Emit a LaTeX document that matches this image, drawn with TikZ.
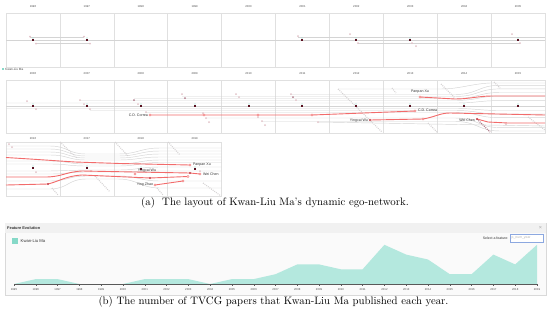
\documentclass[tikz,border=0pt]{standalone}
\usepackage{fontspec}
\newfontfamily\uisans{Liberation Sans}
\definecolor{egoc}{HTML}{5A1020}
\definecolor{redl}{HTML}{F26B6B}
\definecolor{redd}{HTML}{C0404A}
\definecolor{tealA}{HTML}{B4E8DE}
\definecolor{tealB}{HTML}{86D9C8}
\definecolor{pnl}{HTML}{E0E0E0}
\definecolor{gl}{HTML}{D4D4D4}
\definecolor{pk}{HTML}{E2C2C8}
\definecolor{pkd}{HTML}{B07888}
\definecolor{boxblue}{HTML}{8CA8E0}
\begin{document}
\begin{tikzpicture}[x=1pt,y=-1pt,
  yr/.style={font=\uisans\fontsize{2.8}{3}\selectfont, text=black!70, inner sep=0},
  lab/.style={font=\uisans\fontsize{3.6}{4}\selectfont, text=black!80, inner sep=0.3pt},
  uitext/.style={font=\uisans\fontsize{3.8}{4.5}\selectfont, text=black!80, inner sep=0},
  panelbox/.style={draw=pnl, line width=0.5pt},
  gline/.style={draw=gl, line width=0.45pt},
  rline/.style={draw=redl, line width=0.9pt},
  diag/.style={draw=gl!90!pk, line width=1.1pt, dash pattern=on 0.9pt off 1.1pt},
  diagr/.style={draw=pkd, line width=1.1pt, dash pattern=on 0.9pt off 1.1pt},
  captext/.style={font=\fontsize{10.8}{12}\selectfont, inner sep=0}
]
\useasboundingbox (0,0) rectangle (550,309);
\fill[white] (0,0) rectangle (550,309);

% ---------- panels ----------
\def\pw{53.9}
\foreach \k in {0,...,9}{
  \pgfmathsetmacro{\xa}{6+\pw*\k}
  \pgfmathsetmacro{\xb}{6+\pw*(\k+1)}
  \pgfmathsetmacro{\xc}{6+\pw*(\k+0.5)}
  \pgfmathtruncatemacro{\ya}{1996+\k}
  \pgfmathtruncatemacro{\yb}{2006+\k}
  \draw[panelbox] (\xa,13) rectangle (\xb,67);
  \draw[panelbox] (\xa,80) rectangle (\xb,133);
  \node[yr] (ya\k) at (\xc,7) {\ya};
  \node[yr] (yb\k) at (\xc,74) {\yb};
}
\foreach \k in {0,...,3}{
  \pgfmathsetmacro{\xa}{6+\pw*\k}
  \pgfmathsetmacro{\xb}{6+\pw*(\k+1)}
  \pgfmathsetmacro{\xc}{6+\pw*(\k+0.5)}
  \pgfmathtruncatemacro{\yc}{2016+\k}
  \draw[panelbox] (\xa,142) rectangle (\xb,196);
  \node[yr] (yc\k) at (\xc,138.5) {\yc};
}

% legend row 1
\fill[tealB] (2,68) rectangle (4.4,70.4);
\node[yr, anchor=west, font=\uisans\fontsize{3.1}{3}\selectfont] (legA) at (5,69.2) {Kwan-Liu Ma};

% ---------- row 1 ----------
\draw[gline] (6,40) -- (545,40);
\draw[gline] (30,37) -- (84,37);
\draw[gline] (36,43) -- (90,43);
\draw[gline] (298,37) -- (545,37);
\draw[gline] (358,43) -- (520,43);
\foreach \p in {(30,36.5),(84,36.5),(36,43.5),(90,43.5),(298,36),(350,34),(358,43),(412,43),(416,46),(512,34),(520,43)}
  \fill[pk] \p circle (1pt);

% ---------- row 2 gray lines ----------
\foreach \xs/\yo in {6/103, 80/100.5, 134/98.5, 182/96.5, 290/94.5, 6/108.5, 90/110.5, 146/112.5, 206/118, 262/121.5}{
  \pgfmathsetmacro{\yn}{106+(\yo-106)*1.8}
  \pgfmathsetmacro{\yn}{min(\yn,131)}
  \draw[gline] (\xs,\yo) -- (455,\yo) .. controls (478,\yo) and (478,\yn) .. (500,\yn) -- (545,\yn);
}
\draw[gline] (6,106) -- (545,106);
\draw[gline] (338,89) -- (440,89) .. controls (460,89) and (470,84) .. (490,83) -- (545,83);
\draw[gline] (318,122) -- (430,124) -- (545,126);

% diagonals row 2
\draw[diag] (338,89) -- (382,132);
\draw[diag] (428,123) -- (437,132);
\draw[diag] (441,84) -- (455,98);
\draw[diagr] (477,119) -- (490,132);
\draw[diag] (494,82) -- (500,88);
\draw[diag] (528,117) -- (545,130);
\draw[diag] (392,88) -- (396,93);

% light dots row 2
\foreach \p in {(27,101),(36,109),(80,100),(84,104),(90,109),(138,104),(146,112),(182,94),(203,113),(206,118),(209,122),(236,94),(239,97),(258,117),(262,121),(265,125),(291,94),(296,100),(318,122),(506,124)}
  \fill[pk] \p circle (1pt);
\foreach \p in {(134,100),(185,98),(293,97)}
  \fill[pkd] \p circle (1pt);

% red lines row 2
\draw[rline] (150,115) -- (312,115) -- (415,111);
\draw[rline] (370,120) -- (423,119) .. controls (435,117) and (440,113) .. (450,113) -- (545,115);
\draw[rline] (420,97) -- (455,99) .. controls (470,99) and (478,96) .. (492,96) -- (545,96);
\draw[rline] (477,119) -- (488,122) -- (508,123) -- (545,123);
\foreach \p in {(150,115),(204,115),(258,115),(312,115),(415,111),(420,97),(423,119)}
  \draw[redl, fill=white, line width=0.45pt] \p circle (1.1pt);
\foreach \p in {(370,120),(477,119)}
  \fill[redd] \p circle (1.1pt);

% ego row 1 and row 2
\foreach \x in {33,87,302,356,410,518}{
  \fill[tealB] (\x,38) circle (0.55pt);
  \fill[egoc] (\x-1,39) rectangle (\x+1,41.2);
}
\foreach \x in {33,87,141,195,249,302,356,410,464,518}{
  \fill[tealB] (\x,104) circle (0.55pt);
  \fill[egoc] (\x-1,105.2) rectangle (\x+1,107.4);
}

% labels row 2
\node[lab, anchor=east] (cdc1) at (148.5,115.5) {C.D. Correa};
\node[lab, anchor=west] (cdc2) at (417.5,110.5) {C.D. Correa};
\node[lab] (pxu1) at (420,92) {Panpan Xu};
\node[lab, anchor=east] (ywu1) at (368.5,121) {Yingcai Wu};
\node[lab, anchor=east] (wch1) at (475.5,120.5) {Wei Chen};

% ---------- row 3 ----------
\foreach \a/\b/\c in {146/154/148, 149/156/151, 152/158/154, 155/160/157, 161/164/160, 164/166/162.5, 171/170/167, 174/172/171, 181/176/181, 189/179/188}{
  \draw[gline] (6,\a) -- (50,\a) .. controls (68,\a) and (68,\b) .. (86,\b) -- (118,\b) .. controls (138,\b) and (140,\c) .. (160,\c) -- (221.6,\c);
}
\draw[diag] (60,142) -- (77,158);
\draw[diag] (95,176) -- (110,192);
\draw[diag] (115,142) -- (128,156);
\draw[diag] (168,142) -- (180,155);
\draw[diag] (157,188) -- (163,195);
\draw[diag] (203,183) -- (221,196);
\draw[diag] (52,188) -- (58,195);
\foreach \p in {(9,144),(12,147),(36,172),(91,171),(146,172),(200,171)}
  \fill[pk] \p circle (1pt);

\draw[rline] (6,157.5) -- (30,159) -- (75,162) -- (120,163.5) -- (190,165);
\draw[rline] (6,177) -- (45,177) .. controls (62,177) and (65,172) .. (82,171) -- (135,172) -- (190,173) -- (200,174);
\draw[rline] (6,185) -- (48,184) .. controls (60,181) and (66,176) .. (82,175) -- (150,178) -- (188,176.5);
\draw[rline] (155,185) -- (183,181);
\foreach \p in {(190,165),(135,174),(200,174),(155,185),(183,181),(188,176.5)}
  \draw[redl, fill=white, line width=0.45pt] \p circle (1.1pt);
\foreach \p in {(48,184),(150,178),(190,173)}
  \fill[redd] \p circle (1.1pt);

\foreach \x/\y in {33/168,87/168,141/169,195/169}{
  \fill[tealB] (\x,\y-2) circle (0.55pt);
  \fill[egoc] (\x-1,\y-0.8) rectangle (\x+1,\y+1.4);
}
\node[lab, anchor=west] (pxu2) at (192.5,165) {Panpan Xu};
\node[lab] (ywu2) at (147,171) {Yingcai Wu};
\node[lab, anchor=west] (wch2) at (202.5,174.5) {Wei Chen};
\node[lab] (yzh) at (145,185) {Ying Zhao};

% caption a
\node[captext] (capa) at (275,202.5) {(a)\ \ The layout of Kwan-Liu Ma’s dynamic ego-network.};

% ---------- panel b ----------
\draw[draw=gray!30, fill=gray!4, line width=0.5pt] (5,223) rectangle (546,295);
\fill[gray!11] (5.3,223.3) rectangle (545.7,233);
\node[uitext, anchor=west, font=\uisans\bfseries\fontsize{3.9}{4.5}\selectfont] (fe) at (7,228.2) {Feature Evolution};
\node[uitext, text=gray!70, font=\uisans\fontsize{5.5}{6}\selectfont] (xx) at (540.5,228) {×};
\fill[tealB] (12,238) rectangle (18,244);
\node[uitext, anchor=west, font=\uisans\fontsize{4.2}{5}\selectfont] (legB) at (20.5,241) {Kwan-Liu Ma};
\node[uitext, anchor=east, font=\uisans\fontsize{3.5}{4}\selectfont] (sel) at (508.5,238.3) {Select a feature:};
\draw[boxblue, fill=white, line width=0.5pt] (510.5,234.3) rectangle (543,242.3);
\node[uitext, anchor=west, text=gray!60, font=\uisans\fontsize{3.4}{4}\selectfont] (pnum) at (511.5,238.3) {p\_num\_year};

\fill[tealA] (14,284) -- (35.8,279.1) -- (57.6,279.1) -- (79.4,284) -- (101.2,284) -- (123.0,284)
  -- (144.7,279.1) -- (166.5,279.1) -- (188.3,279.1) -- (210.1,284) -- (231.9,279.1) -- (253.7,279.1)
  -- (275.5,274.2) -- (297.3,264.4) -- (319.1,264.4) -- (340.9,269.3) -- (362.6,269.3) -- (384.4,244.8)
  -- (406.2,254.6) -- (428.0,259.5) -- (449.8,274.2) -- (471.6,274.2) -- (493.4,254.6) -- (515.2,264.4)
  -- (537.0,244.8) -- (537,284) -- cycle;
\draw[black!65, line width=0.5pt] (14,284) -- (537,284);
\foreach \k in {0,...,24}{
  \pgfmathsetmacro{\xx}{14+21.7917*\k}
  \pgfmathtruncatemacro{\yy}{1995+\k}
  \draw[black!65, line width=0.4pt] (\xx,284) -- (\xx,285.8);
  \node[yr] (ax\k) at (\xx,289.5) {\yy};
}

\node[captext] (capb) at (273.5,301.3) {(b) The number of TVCG papers that Kwan-Liu Ma published each year.};
\end{tikzpicture}
\end{document}
